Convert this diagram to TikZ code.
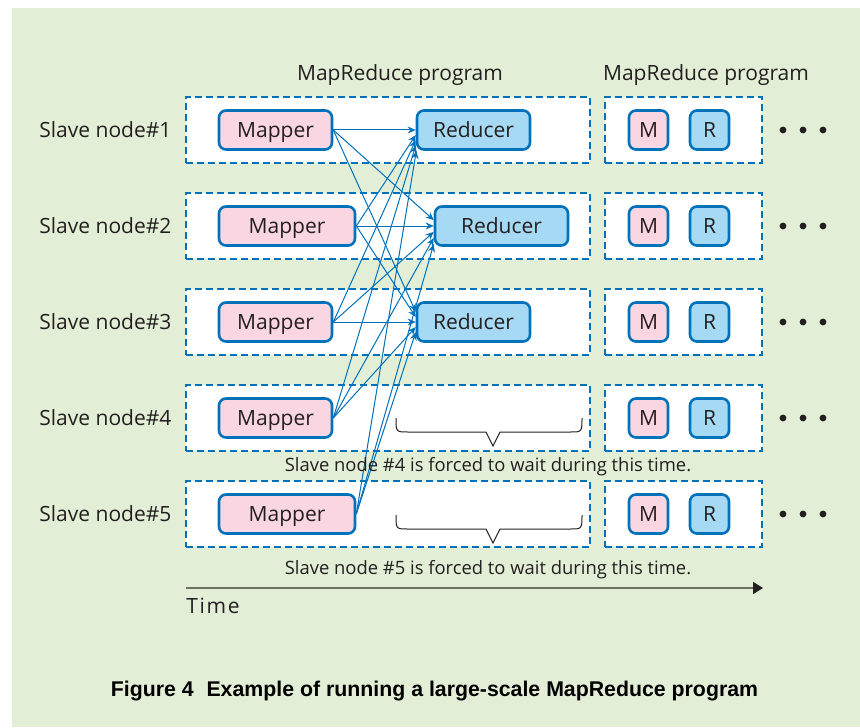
\documentclass[tikz,border=0pt]{standalone}
\usepackage{fontspec}
\setmainfont{Open Sans}
\newfontfamily\capfont{Liberation Sans}
\usetikzlibrary{arrows.meta,positioning,calc}
\definecolor{bggreen}{RGB}{226,239,214}
\definecolor{lineblue}{RGB}{0,114,188}
\definecolor{mappink}{RGB}{249,214,226}
\definecolor{redblue}{RGB}{166,218,244}
\definecolor{inkdark}{RGB}{35,31,32}
\definecolor{axisgray}{RGB}{110,110,100}

\begin{document}
\begin{tikzpicture}[x=0.5pt, y=-0.5pt,
    txt/.style={font=\fontsize{10.5}{12}\selectfont, text=inkdark, inner sep=0pt},
    note/.style={font=\fontsize{9.2}{11}\selectfont, text=inkdark, inner sep=0pt},
    progbox/.style={draw=lineblue, line width=1.15pt, dash pattern=on 3.5pt off 2pt, fill=white, minimum height=33pt, inner sep=0pt},
    task/.style={draw=lineblue, line width=1.3pt, rounded corners=3.5pt, minimum height=19.5pt, inner sep=0pt,
        text height=0.82em, text depth=0.1em, font=\fontsize{10.5}{12}\selectfont, text=inkdark},
    mapbox/.style={task, fill=mappink},
    redbox/.style={task, fill=redblue},
    flow/.style={lineblue, line width=0.5pt, -{Stealth[length=4pt,width=3.5pt]}},
    waitbrace/.style={inkdark, line width=0.5pt}
]
    % Canvas
    \useasboundingbox (0,0) rectangle (860,727);
    \fill[bggreen] (12,8) rectangle (860,727);

    % Column headers
    \node[txt] (h1) at (400,75) {MapReduce program};
    \node[txt] (h2) at (706,75) {MapReduce program};

    % One row per slave node
    \foreach \k in {1,...,5}{
        \pgfmathsetmacro\yc{130+96*(\k-1)}
        \node[txt, anchor=west] (s\k) at (39,\yc) {Slave node\#\k};
        \node[progbox, minimum width=202pt] (p\k) at (388,\yc) {};
        \node[progbox, minimum width=78.5pt] (q\k) at (683.5,\yc) {};
        \node[mapbox, minimum width=19.5pt] (mm\k) at (648.5,\yc) {M};
        \node[redbox, minimum width=19.5pt] (rr\k) at (709.5,\yc) {R};
        \foreach \dx in {783,803,823}
            \fill[inkdark] (\dx,\yc) circle (1.7pt);
    }

    % Mappers
    \node[mapbox, minimum width=56.5pt] (m1) at (275.5,130) {Mapper};
    \node[mapbox, minimum width=68pt]   (m2) at (287,226)   {Mapper};
    \node[mapbox, minimum width=56.5pt] (m3) at (275.5,322) {Mapper};
    \node[mapbox, minimum width=56.5pt] (m4) at (275.5,418) {Mapper};
    \node[mapbox, minimum width=68pt]   (m5) at (287,514)   {Mapper};

    % Reducers
    \node[redbox, minimum width=56.5pt] (r1) at (473.5,130) {Reducer};
    \node[redbox, minimum width=66.5pt] (r2) at (501.5,226) {Reducer};
    \node[redbox, minimum width=56.5pt] (r3) at (473.5,322) {Reducer};

    % Shuffle: every mapper feeds every reducer
    \foreach \i in {1,...,5}
        \foreach \j in {1,2,3}{
            \pgfmathtruncatemacro\ang{180+5*(\i-\j)}
            \draw[flow] (m\i.east) -- (r\j.\ang);
        }

    % Idle time of slave nodes 4 and 5
    \draw[waitbrace] (396,418) .. controls (396,432) .. (408,432) -- (486,432)
        -- (493,446) -- (500,432) -- (570,432) .. controls (582,432) .. (582,418);
    \draw[waitbrace] (396,515) .. controls (396,529) .. (408,529) -- (486,529)
        -- (493,543) -- (500,529) -- (570,529) .. controls (582,529) .. (582,515);
    \node[note] (w4) at (488,467) {Slave node \#4 is forced to wait during this time.};
    \node[note] (w5) at (488,570) {Slave node \#5 is forced to wait during this time.};

    % Time axis
    \coordinate (t0) at (186,588);
    \coordinate (t1) at (763,588);
    \draw[axisgray, line width=0.8pt, -{Triangle[length=5pt,width=6pt,color=inkdark]}] (t0) -- (t1);
    \node[txt, anchor=west] (time) at (186,606) {\addfontfeature{LetterSpace=8}Time};

    % Caption
    \node[font=\capfont\bfseries\fontsize{10.65}{12}\selectfont, inner sep=0pt] (cap) at (434.5,691)
        {Figure 4\hspace{0.6em}Example of running a large-scale MapReduce program};
\end{tikzpicture}
\end{document}
